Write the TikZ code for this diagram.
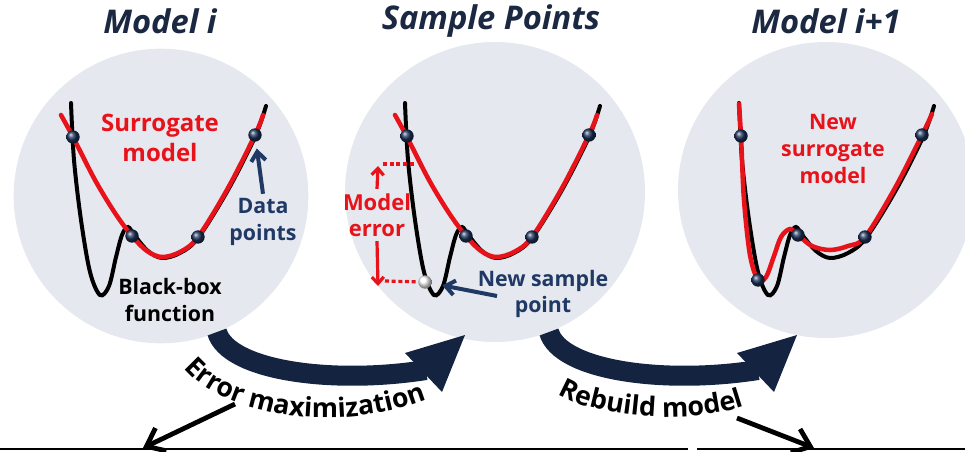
\documentclass[tikz,border=0pt]{standalone}
\usepackage{fontspec}
\setmainfont{Open Sans}
\usetikzlibrary{arrows.meta,decorations.text}

\definecolor{navy}{RGB}{27,40,66}
\definecolor{ink}{RGB}{31,56,100}
\definecolor{band}{RGB}{20,36,64}
\definecolor{srred}{RGB}{232,18,26}
\definecolor{disc}{RGB}{229,232,238}

% black-box function and first surrogate, in local pixel coordinates
\newcommand{\blackboxcurve}{plot[smooth,tension=0.55] coordinates {(71,103) (74,160) (81,220) (90,272) (100,295) (109,286) (116,257) (122,235) (128,227) (135,236) (148,251) (162,258) (180,253) (198,238) (228,190) (255,137) (266,106)}}
\newcommand{\surrogatecurve}{plot[smooth,tension=0.55] coordinates {(61,115) (73,137) (95,180) (115,213) (132,236) (147,251) (162,257) (180,252) (198,237) (228,188) (255,135) (263,115)}}

\begin{document}
\begin{tikzpicture}[x=0.75pt,y=-0.75pt,
  discnode/.style={circle,fill=disc,inner sep=0pt,minimum size=#1},
  title/.style={text=navy,font=\fontsize{24.5}{28}\selectfont\bfseries\itshape},
  redtext/.style 2 args={text=srred,align=center,font=\fontsize{#1}{#2}\selectfont\bfseries},
  inktext/.style={text=ink,align=center,font=\fontsize{16}{20}\selectfont\bfseries},
  blacktext/.style={text=black,align=center,font=\fontsize{16}{20}\selectfont\bfseries},
  fn/.style={line width=3pt,black,line cap=round},
  sur/.style={line width=3.4pt,srred,line cap=round},
  dot/.style={circle,inner sep=0pt,minimum size=10pt,shading=ball,ball color=ink!90!black},
  wdot/.style={circle,inner sep=0pt,minimum size=10pt,shading=ball,ball color=white},
  inkarrow/.style={line width=3pt,ink,-{Straight Barb[length=7pt,width=11pt]}},
  redarrow/.style={line width=2.4pt,srred,-{Straight Barb[length=5pt,width=9pt]}},
  reddots/.style={line width=2.4pt,srred,dash pattern=on 3pt off 2pt},
  bandline/.style={line width=15pt,band},
  bandhead/.style={fill=band},
  thinarrow/.style={line width=3.6pt,black,-{Straight Barb[length=12pt,width=19pt]}},
  boxedge/.style={line width=2.2pt,black},
  arctext/.style={decorate,decoration={text along path,text align=left,text={|\fontsize{20}{20}\selectfont\bfseries|#1}}}
]
\useasboundingbox (0,0) rectangle (965,451);

% the three discs
\node[discnode=221pt] (c1) at (161,196) {};
\node[discnode=225pt] (c2) at (495,192) {};
\node[discnode=222pt] (c3) at (826,190) {};

% titles
\node[title] (t1) at (160,21) {Model i};
\node[title] (t2) at (491,21) {Sample Points};
\node[title] (t3) at (826,21) {Model i+1};

% ---- Model i ----
\draw[fn] \blackboxcurve;
\draw[sur] \surrogatecurve;
\node[dot] (p11) at (73,137) {};
\node[dot] (p12) at (132,236) {};
\node[dot] (p13) at (198,237) {};
\node[dot] (p14) at (255,135) {};
\node[redtext={18}{22.5}] (sm) at (160,138) {Surrogate\\model};
\node[inktext] (dp) at (263,222) {Data\\points};
\draw[inkarrow,shorten >=5pt] (dp.north) -- (p14);
\node[blacktext] (bb) at (170,300) {Black-box\\function};

% ---- Sample Points ----
\begin{scope}[shift={(334,0)}]
  \draw[fn] \blackboxcurve;
  \draw[sur] \surrogatecurve;
  \node[dot] (p21) at (73,136) {};
  \node[dot] (p22) at (132,236) {};
  \node[dot] (p23) at (198,237) {};
  \node[dot] (p24) at (255,135) {};
\end{scope}
\node[wdot] (ns) at (425,282) {};
\coordinate (e1a) at (383,164);
\coordinate (e1b) at (415,164);
\coordinate (e2a) at (385,281);
\draw[reddots] (e1a) -- (e1b);
\draw[reddots] (e2a) -- (ns);
\node[redtext={16.5}{19.5}] (me) at (377,215) {Model\\error};
\coordinate (up) at (378,166);
\coordinate (dn) at (378,286);
\draw[redarrow] (me.north) -- (up);
\draw[redarrow] (me.south) -- (dn);
\node[inktext] (nsp) at (543,294) {New sample\\point};
\coordinate (nst) at (497,296);
\draw[inkarrow,shorten >=8pt] (nst) -- (ns);

% ---- Model i+1 ----
\begin{scope}[shift={(668,0)}]
  \draw[fn] \blackboxcurve;
\end{scope}
\draw[sur] plot[smooth,tension=0.55] coordinates {(739,104) (741,136) (744,200) (750,255) (758,280) (766,277) (774,256) (781,237) (790,229) (798,235) (812,246) (830,250) (848,246) (865,237) (895,188) (922,135) (932,114)};
\node[dot] (p31) at (741,136) {};
\node[dot] (p32) at (758,280) {};
\node[dot] (p33) at (798,235) {};
\node[dot] (p34) at (865,237) {};
\node[dot] (p35) at (922,135) {};
\node[redtext={16}{20}] (nsm) at (833,149) {New\\surrogate\\model};

% ---- step arrows between the discs: curved band plus a wide head ----
\coordinate (a1s) at (217,332);
\coordinate (a1m) at (426,370);
\coordinate (a1e) at (465,335);
\coordinate (a1l) at (405,353);
\coordinate (a1r) at (442,392);
\draw[bandline] (a1s) .. controls (228,370) and (330,385) .. (a1m);
\fill[bandhead] (a1e) -- (a1l) -- (a1r) -- cycle;

\coordinate (a2s) at (549,332);
\coordinate (a2m) at (758,370);
\coordinate (a2e) at (797,335);
\coordinate (a2l) at (737,353);
\coordinate (a2r) at (774,392);
\draw[bandline] (a2s) .. controls (560,370) and (662,385) .. (a2m);
\fill[bandhead] (a2e) -- (a2l) -- (a2r) -- cycle;

% labels bent along the step arrows
\path[arctext={Error maximization}] (184,368) .. controls (220,412) and (330,438) .. (430,398);
\path[arctext={Rebuild model}] (558,394) .. controls (590,415) and (690,430) .. (757,401);

% ---- lower boxes ----
\coordinate (l1) at (0,449);
\coordinate (l2) at (688,449);
\coordinate (r1) at (697,449);
\coordinate (r2) at (965,449);
\draw[boxedge] (l1) -- (l2);
\draw[boxedge] (r1) -- (r2);
\coordinate (b1s) at (235,404);
\coordinate (b1e) at (143,448);
\draw[thinarrow] (b1s) -- (b1e);
\coordinate (b2s) at (737,418);
\coordinate (b2e) at (814,448);
\draw[thinarrow] (b2s) -- (b2e);
\end{tikzpicture}
\end{document}
